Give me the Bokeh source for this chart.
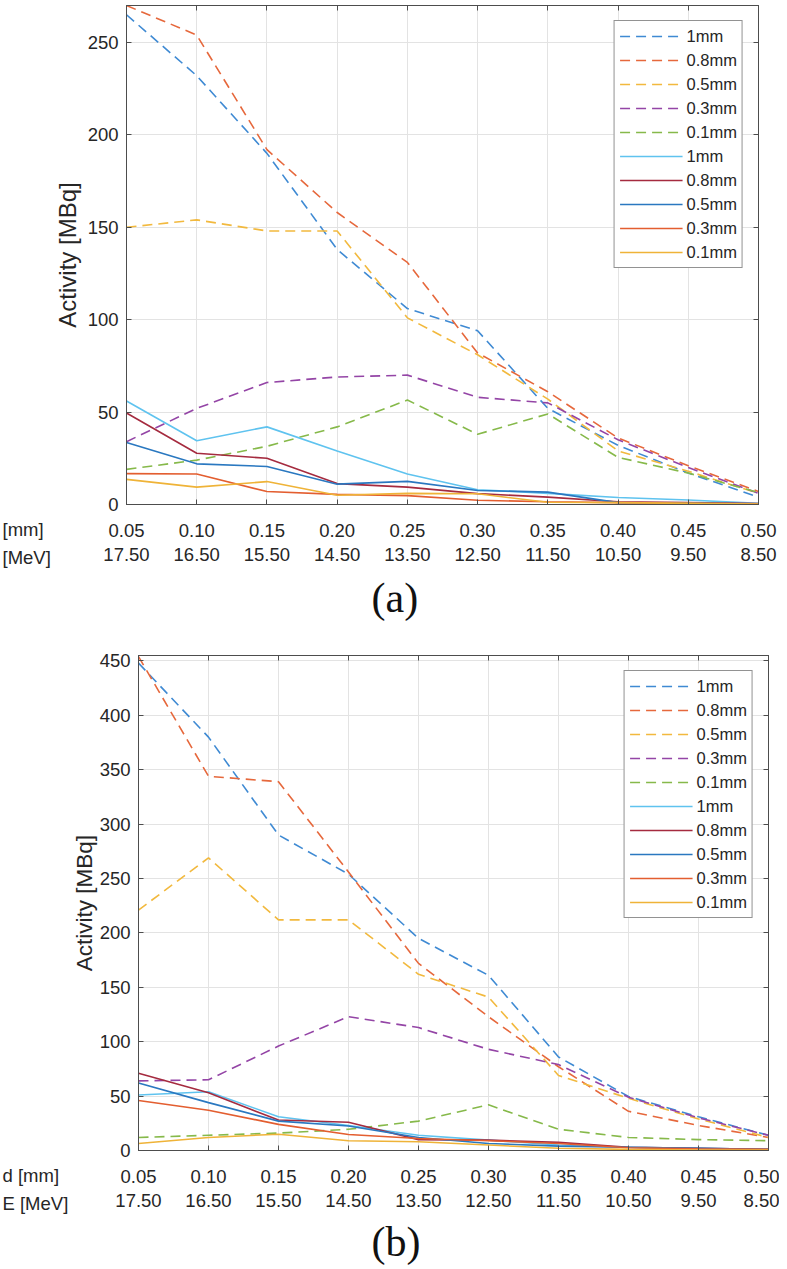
from bokeh.plotting import figure
from bokeh.models import (LinearAxis, FixedTicker, Range1d, NumeralTickFormatter,
                          Legend, LegendItem, Label, Title)
from bokeh.embed import file_html
from bokeh.resources import INLINE

# ---------------- data ----------------
thickness_mm = [0.05, 0.10, 0.15, 0.20, 0.25, 0.30, 0.35, 0.40, 0.45, 0.50]
energy_mev = [17.50, 16.50, 15.50, 14.50, 13.50, 12.50, 11.50, 10.50, 9.50, 8.50]
series_labels = ["1mm", "0.8mm", "0.5mm", "0.3mm", "0.1mm",
                 "1mm", "0.8mm", "0.5mm", "0.3mm", "0.1mm"]

# panel (a)
a_dash_1mm = [265, 232, 190, 138, 106, 94, 52, 32, 17, 4]
a_dash_08mm = [270, 254, 192, 158, 131, 82, 61, 36, 21, 7]
a_dash_05mm = [150, 154, 148, 148, 101, 81, 57, 29, 18, 6]
a_dash_03mm = [34, 52, 66, 69, 70, 58, 55, 35, 20, 6]
a_dash_01mm = [19, 24, 31.5, 42, 56.5, 38, 49, 25.5, 17, 6.5]
a_solid_1mm = [56, 34.5, 42, 29, 16.5, 8, 6, 3.8, 2.4, 0.6]
a_solid_08mm = [49.5, 27.7, 25, 11.3, 9.4, 5.9, 4, 1.5, 1, 0.5]
a_solid_05mm = [33.6, 22, 20.6, 11, 12.5, 7.6, 6.7, 1, 0.8, 0.3]
a_solid_03mm = [16.7, 16.5, 7, 5.5, 4.8, 2.3, 1.5, 1, 0.7, 0.3]
a_solid_01mm = [13.6, 9.4, 12.4, 5, 6, 5.8, 1.2, 1, 0.6, 0.2]

# panel (b)
b_dash_1mm = [448, 380, 290, 254, 195, 161, 86, 49.6, 31, 14]
b_dash_08mm = [454, 344, 339, 256, 172, 123, 77, 36, 23, 12]
b_dash_05mm = [221, 269, 212, 212, 162, 141, 69, 48, 29, 12]
b_dash_03mm = [64, 65, 96, 123, 113, 93, 79, 49, 30, 14]
b_dash_01mm = [12, 14, 16, 19.5, 27, 42, 19.5, 12, 10, 9]
b_solid_1mm = [51, 54, 31, 23, 14, 9.5, 5, 3, 2, 1]
b_solid_08mm = [71, 53, 28, 26, 10, 9.5, 7.5, 3, 2, 1]
b_solid_05mm = [62, 44, 27, 22.5, 12, 6.5, 4, 3, 2, 1]
b_solid_03mm = [46, 37, 24, 14.7, 11, 9, 6.5, 2.5, 1.5, 1]
b_solid_01mm = [6.5, 12, 15, 9, 8, 5, 2, 1, 0.5, 0.3]

a_yticks = [0, 50, 100, 150, 200, 250]
b_yticks = [0, 50, 100, 150, 200, 250, 300, 350, 400, 450]

# ---------------- style ----------------
COLORS = ["#3f8ad3", "#e6683c", "#f2b93e", "#9445a6", "#86b94a",
          "#5fc3ef", "#a52b3f", "#2a78c0", "#e35e30", "#efb338"]
DASHES = ["10 6"] * 5 + ["solid"] * 5
SANS = "Liberation Sans"
AX = "#4d4d4d"
TXT = "#262626"
TICK_FS = "18.5px"


def build(ys_list, yticks, ymax, fw, fh, bl, br, bt, bb, row1, row2, row_fs,
          cap, cap_dx, cap_standoff, ylab_fs, ylab_standoff):
    p = figure(frame_width=fw, frame_height=fh, min_border_left=bl, min_border_right=br,
               min_border_top=bt, min_border_bottom=bb,
               x_range=Range1d(thickness_mm[0], thickness_mm[-1]),
               y_range=Range1d(0, ymax),
               output_backend="svg", toolbar_location=None,
               x_axis_location=None, y_axis_location=None)
    p.extra_x_ranges = {"E": Range1d(energy_mev[0], energy_mev[-1])}
    p.outline_line_color = AX
    p.outline_line_width = 1
    p.background_fill_color = "white"

    # bottom axes: thickness row and energy row
    ax_mm = LinearAxis(ticker=FixedTicker(ticks=thickness_mm),
                       formatter=NumeralTickFormatter(format="0.00"))
    ax_e = LinearAxis(x_range_name="E", ticker=FixedTicker(ticks=energy_mev),
                      formatter=NumeralTickFormatter(format="0.00"))
    for ax in (ax_mm, ax_e):
        ax.major_label_text_font = SANS
        ax.major_label_text_font_size = TICK_FS
        ax.major_label_text_color = TXT
        ax.minor_tick_line_color = None
        ax.major_tick_out = 0
    ax_mm.major_tick_in = 5
    ax_mm.axis_line_color = AX
    ax_mm.major_tick_line_color = AX
    ax_mm.major_label_standoff = 19
    ax_e.axis_line_color = None
    ax_e.major_tick_line_color = None
    ax_e.major_label_standoff = 8
    p.add_layout(ax_mm, "below")
    p.add_layout(ax_e, "below")

    ay = LinearAxis(ticker=FixedTicker(ticks=yticks), axis_label="Activity [MBq]")
    ay.major_label_text_font = SANS
    ay.major_label_text_font_size = TICK_FS
    ay.major_label_text_color = TXT
    ay.axis_label_text_font = SANS
    ay.axis_label_text_font_size = ylab_fs
    ay.axis_label_text_font_style = "normal"
    ay.axis_label_text_color = TXT
    ay.axis_label_standoff = ylab_standoff
    ay.minor_tick_line_color = None
    ay.major_tick_in = 5
    ay.major_tick_out = 0
    ay.major_label_standoff = 8
    ay.axis_line_color = AX
    ay.major_tick_line_color = AX
    p.add_layout(ay, "left")

    # names of the two tick-label rows, in the left side panel (outside the axis),
    # pushed down beside the tick rows below the frame
    p.add_layout(Label(x=0, y=-14, x_units="screen", y_units="screen",
                       text=row1 + "\n" + row2, text_align="left", text_baseline="top",
                       text_line_height=1.35, text_font=SANS, text_font_size=row_fs,
                       text_color=TXT), "left")

    # mirrored box axes (ticks only, empty labels)
    top = LinearAxis(ticker=FixedTicker(ticks=thickness_mm),
                     major_label_overrides={t: "" for t in thickness_mm})
    right = LinearAxis(ticker=FixedTicker(ticks=yticks),
                       major_label_overrides={t: "" for t in yticks})
    for ax in (top, right):
        ax.major_label_standoff = 0
        ax.major_tick_in = 5
        ax.major_tick_out = 0
        ax.minor_tick_line_color = None
        ax.axis_line_color = AX
        ax.major_tick_line_color = AX
    p.add_layout(top, "above")
    p.add_layout(right, "right")

    p.xgrid.ticker = FixedTicker(ticks=thickness_mm)
    p.ygrid.ticker = FixedTicker(ticks=yticks)
    p.grid.grid_line_color = "#e3e3e3"
    p.grid.grid_line_width = 1

    items = []
    for ys, col, dash, lab in zip(ys_list, COLORS, DASHES, series_labels):
        r = p.line(thickness_mm, ys, line_color=col, line_width=1.6, line_dash=dash)
        items.append(LegendItem(label=lab, renderers=[r]))
    leg = Legend(items=items, location="top_right", margin=15, padding=5,
                 spacing=4, glyph_width=63, glyph_height=20, label_height=20,
                 label_standoff=4, label_text_font=SANS, label_text_font_size="16.5px",
                 label_text_color=TXT, border_line_color=TXT, border_line_width=1,
                 background_fill_color="white", background_fill_alpha=1.0)
    p.add_layout(leg)

    p.add_layout(Title(text=cap, align="left", offset=cap_dx, standoff=cap_standoff,
                       text_font="Liberation Serif", text_font_size="42px",
                       text_font_style="normal", text_color="#111111"), "below")
    return p


p1 = build([a_dash_1mm, a_dash_08mm, a_dash_05mm, a_dash_03mm, a_dash_01mm,
            a_solid_1mm, a_solid_08mm, a_solid_05mm, a_solid_03mm, a_solid_01mm],
           a_yticks, 270, 632, 499, 126, 21, 5, 121, "[mm]", "[MeV]", "18.5px",
           "(a)", 245, 18, "24px", 4)
p2 = build([b_dash_1mm, b_dash_08mm, b_dash_05mm, b_dash_03mm, b_dash_01mm,
            b_solid_1mm, b_solid_08mm, b_solid_05mm, b_solid_03mm, b_solid_01mm],
           b_yticks, 455, 630, 495, 138, 11, 26, 117, "d [mm]", "E [MeV]", "18.5px",
           "(b)", 233, 14, "22.5px", 0)

# two separate roots, stacked, so that the plot frames are not forced into alignment
open("out.html", "w").write(file_html([p1, p2], INLINE))
